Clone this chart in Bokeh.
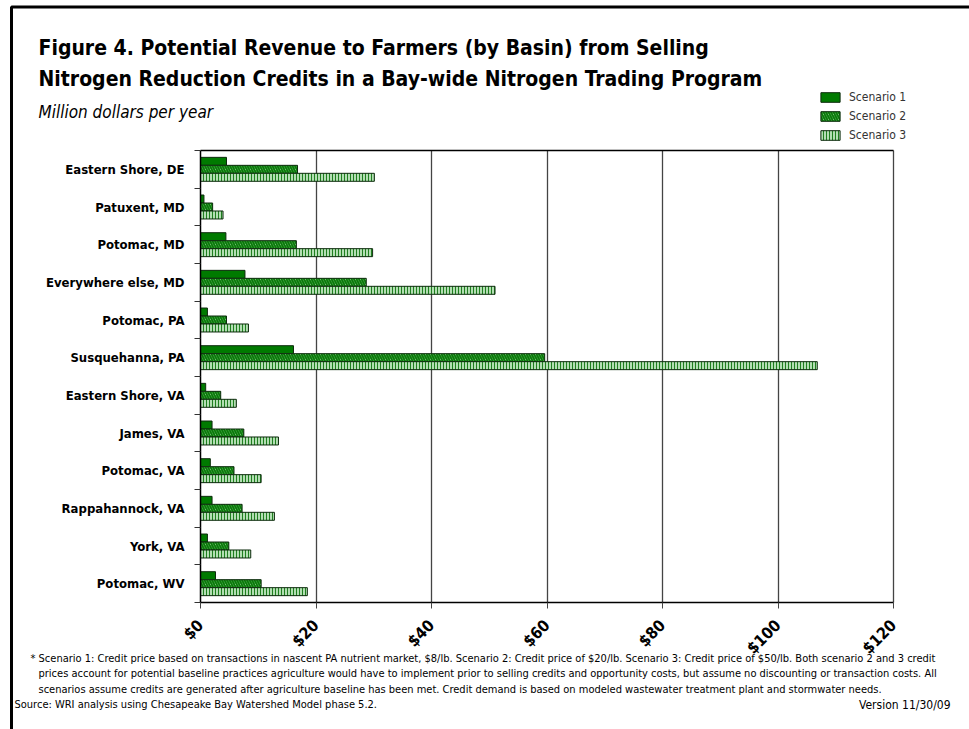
import math
from bokeh.plotting import figure
from bokeh.models import (ColumnDataSource, Range1d, FixedTicker, Label, Legend, LegendItem,
                          PolyAnnotation, LinearAxis, Grid)
from bokeh.transform import dodge
from bokeh.embed import file_html
from bokeh.resources import INLINE

# ---------------- data ----------------
basins = ["Eastern Shore, DE", "Patuxent, MD", "Potomac, MD", "Everywhere else, MD",
          "Potomac, PA", "Susquehanna, PA", "Eastern Shore, VA", "James, VA",
          "Potomac, VA", "Rappahannock, VA", "York, VA", "Potomac, WV"]
scenario1 = [4.5, 0.6, 4.4, 7.7, 1.2, 16.1, 0.9, 2.0, 1.7, 2.0, 1.2, 2.6]
scenario2 = [16.8, 2.1, 16.6, 28.7, 4.5, 59.6, 3.5, 7.5, 5.8, 7.2, 4.9, 10.5]
scenario3 = [30.1, 3.9, 29.8, 51.0, 8.3, 106.8, 6.2, 13.5, 10.5, 12.8, 8.7, 18.5]
x_ticks = [0, 20, 40, 60, 80, 100, 120]
x_tick_labels = ["$0", "$20", "$40", "$60", "$80", "$100", "$120"]
series_names = ["Scenario 1", "Scenario 2", "Scenario 3"]

FONT = "DejaVu Sans Condensed"
W, H = 969, 729

# plot area in page pixels: x 200..893 ($0..$120), y 150..602 (12 rows)
PX_PER_X = 693 / 120.0
PX_PER_ROW = 452 / 12.0
def dx(px):
    return (px - 200) / PX_PER_X
def dy(py):
    return (py - 150) / PX_PER_ROW

n = len(basins)
rows = [i + 0.5 for i in range(n)]
src = ColumnDataSource(dict(row=rows, basin=basins, s1=scenario1, s2=scenario2, s3=scenario3))

p = figure(width=W, height=H, output_backend="svg", toolbar_location=None, title=None,
           x_range=Range1d(dx(0), dx(W)), y_range=Range1d(dy(H), dy(0)),
           x_axis_type=None, y_axis_type=None,
           min_border=0, min_border_left=0, min_border_right=0, min_border_top=0, min_border_bottom=0)
p.background_fill_color = "white"
p.border_fill_color = "white"
p.outline_line_color = None
p.grid.visible = False

# vertical gridlines limited to the plot area
xgrid = Grid(dimension=0, ticker=FixedTicker(ticks=x_ticks[1:]), grid_line_color="#444444",
             grid_line_width=1.3)
if "cross_bounds" in Grid.properties():
    xgrid.cross_bounds = (0, n)
p.add_layout(xgrid)

bh = 0.212
r1 = p.hbar(y=dodge("row", -bh, range=p.y_range), right="s1", left=0, height=bh, source=src,
            fill_color="#007a00", line_color="#0d2b0d", line_width=1)
r2 = p.hbar(y=dodge("row", 0, range=p.y_range), right="s2", left=0, height=bh, source=src,
            fill_color="#a8dca8", hatch_pattern="\\", hatch_color="#0a7a0a", hatch_weight=2,
            hatch_scale=5, line_color="#0d2b0d", line_width=1)
r3 = p.hbar(y=dodge("row", bh, range=p.y_range), right="s3", left=0, height=bh, source=src,
            fill_color="#b3deb3", hatch_pattern="|", hatch_color="#1f7f1f", hatch_weight=1,
            hatch_scale=3, line_color="#0d2b0d", line_width=1)

# x axis at the bottom of the plot area
xa = LinearAxis(fixed_location=n, bounds=(0, 120), ticker=FixedTicker(ticks=x_ticks))
xa.major_label_overrides = {t: l for t, l in zip(x_ticks, x_tick_labels)}
xa.major_label_orientation = math.pi / 4
xa.major_label_text_font = FONT
xa.major_label_text_font_style = "bold"
xa.major_label_text_font_size = "16px"
xa.major_label_text_color = "black"
xa.major_tick_out = 6
xa.major_tick_in = 0
xa.minor_tick_line_color = None
xa.axis_line_color = "black"
xa.axis_line_width = 1.5
xa.major_tick_line_color = "#444444"
xa.major_label_standoff = 14
p.add_layout(xa, "below")

# top border line of the plot area
ta = LinearAxis(fixed_location=0, bounds=(0, 120), ticker=FixedTicker(ticks=[]))
ta.major_label_text_font_size = "0px"
ta.major_tick_line_color = None
ta.minor_tick_line_color = None
ta.axis_line_color = "black"
ta.axis_line_width = 1.5
p.add_layout(ta, "above")

# y axis with category names
ya = LinearAxis(fixed_location=0, bounds=(0, n),
                ticker=FixedTicker(ticks=rows, minor_ticks=list(range(n + 1))))
ya.major_label_overrides = {r: b for r, b in zip(rows, basins)}
ya.major_tick_out = 0
ya.major_tick_in = 0
ya.minor_tick_out = 6
ya.minor_tick_in = 0
ya.minor_tick_line_color = "#333333"
ya.axis_line_color = "black"
ya.axis_line_width = 1.5
ya.major_label_text_font = FONT
ya.major_label_text_font_style = "bold"
ya.major_label_text_font_size = "13px"
ya.major_label_text_color = "black"
ya.major_label_standoff = 10
p.add_layout(ya, "left")

# legend
legend = Legend(items=[LegendItem(label=series_names[0], renderers=[r1]),
                       LegendItem(label=series_names[1], renderers=[r2]),
                       LegendItem(label=series_names[2], renderers=[r3])],
                location=(818, H - 142), orientation="vertical")
legend.border_line_alpha = 0
legend.background_fill_alpha = 0
legend.padding = 0
legend.margin = 0
legend.spacing = 5
legend.glyph_width = 24
legend.glyph_height = 12
legend.label_height = 12
legend.label_standoff = 7
legend.label_text_font = FONT
legend.label_text_font_size = "12px"
legend.label_text_color = "#333333"
p.add_layout(legend, "center")

# texts
def add_text(txt, px, py, size, style="normal", align="left", color="black"):
    p.add_layout(Label(x=dx(px), y=dy(py), text=txt, text_font=FONT, text_font_size=size,
                       text_font_style=style, text_align=align, text_baseline="middle",
                       text_color=color))

add_text("Figure 4.  Potential Revenue to Farmers (by Basin) from Selling", 38, 47, "21px", "bold")
add_text("Nitrogen Reduction Credits in a Bay-wide Nitrogen Trading Program", 38, 78, "21px", "bold")
add_text("Million dollars per year", 38, 111, "17px", "italic")

add_text("* Scenario 1: Credit price based on transactions in nascent PA nutrient market, $8/lb. "
         "Scenario 2: Credit price of $20/lb. Scenario 3: Credit price of $50/lb. Both scenario 2 and 3 credit",
         30, 658, "11px")
add_text("prices account for potential baseline practices agriculture would have to implement prior to selling "
         "credits and opportunity costs, but assume no discounting or transaction costs.  All",
         38, 673, "11px")
add_text("scenarios assume credits are generated after agriculture baseline has been met. Credit demand is "
         "based on modeled wastewater treatment plant and stormwater needs.",
         38, 689, "11px")
add_text("Source: WRI analysis using Chesapeake Bay Watershed Model phase 5.2.", 14, 704, "11px")
add_text("Version 11/30/09", 950, 704, "12px", align="right")

# outer frame
p.add_layout(PolyAnnotation(xs=[dx(11), dx(1100), dx(1100), dx(11)],
                            ys=[dy(6.5), dy(6.5), dy(900), dy(900)],
                            fill_alpha=0, line_color="black", line_alpha=1.0, line_width=3))

open("out.html", "w").write(file_html(p, INLINE))
